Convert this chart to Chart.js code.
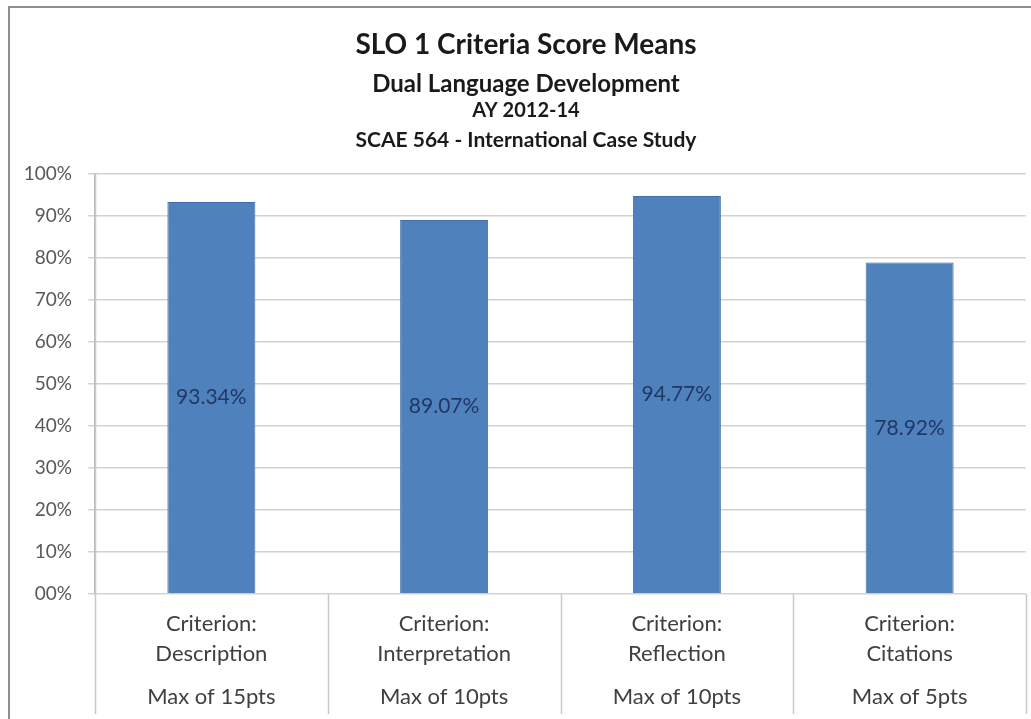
<!DOCTYPE html>
<html>
<head>
<meta charset="utf-8">
<script src="https://cdn.jsdelivr.net/npm/chart.js@4.4.1/dist/chart.umd.min.js"></script>
<style>
  html, body { margin: 0; padding: 0; background: #ffffff; overflow: hidden; }
  #frame { position: absolute; left: 8px; top: 6px; width: 1200px; height: 900px;
           border-left: 2px solid #8e8e8e; border-top: 2px solid #8e8e8e; }
  #wrap { position: absolute; left: 0; top: 0; width: 1031px; height: 719px; }
</style>
</head>
<body>
<div id="frame"></div>
<div id="wrap"><canvas id="c" width="1031" height="719"></canvas></div>
<script>
// ---- data ----
const titleLines = [
  'SLO 1 Criteria Score Means',
  'Dual Language Development',
  'AY 2012-14',
  'SCAE 564 - International Case Study'
];
const criterionLabels = [
  ['Criterion:', 'Description'],
  ['Criterion:', 'Interpretation'],
  ['Criterion:', 'Reflection'],
  ['Criterion:', 'Citations']
];
const maxLabels = ['Max of 15pts', 'Max of 10pts', 'Max of 10pts', 'Max of 5pts'];
const meanScores = [93.34, 89.07, 94.77, 78.92];
const yTickLabels = ['00%', '10%', '20%', '30%', '40%', '50%', '60%', '70%', '80%', '90%', '100%'];

// ---- plugins ----
const titleBlock = {
  id: 'titleBlock',
  afterDraw(chart, args, opts) {
    const ctx = chart.ctx;
    ctx.save();
    ctx.fillStyle = opts.color;
    ctx.textAlign = 'center';
    ctx.textBaseline = 'middle';
    titleLines.forEach((t, i) => {
      ctx.font = opts.fonts[i];
      ctx.fillText(t, opts.centerX, opts.ys[i]);
    });
    ctx.restore();
  }
};

const barValueLabels = {
  id: 'barValueLabels',
  afterDatasetsDraw(chart, args, opts) {
    const ctx = chart.ctx;
    ctx.save();
    ctx.font = opts.font;
    ctx.fillStyle = opts.color;
    ctx.textAlign = 'center';
    ctx.textBaseline = 'middle';
    const meta = chart.getDatasetMeta(0);
    meta.data.forEach((bar, i) => {
      const v = chart.data.datasets[0].data[i];
      ctx.fillText(v.toFixed(2) + '%', bar.x, (bar.y + bar.base) / 2);
    });
    ctx.restore();
  }
};

const categorySeparators = {
  id: 'categorySeparators',
  afterDraw(chart, args, opts) {
    const ctx = chart.ctx;
    const xs = chart.scales.x;
    const area = chart.chartArea;
    const n = xs.ticks.length;
    const half = (xs.getPixelForValue(1) - xs.getPixelForValue(0)) / 2;
    ctx.save();
    ctx.strokeStyle = opts.color;
    ctx.lineWidth = opts.width;
    for (let i = 0; i <= n; i++) {
      const px = Math.round(xs.getPixelForValue(0) - half + i * 2 * half) + 0.5;
      ctx.beginPath();
      ctx.moveTo(px, i === 0 ? area.top : area.bottom);
      ctx.lineTo(px, chart.height - opts.bottomGap);
      ctx.stroke();
    }
    ctx.restore();
  }
};

Chart.defaults.font.family = 'Lato, "Open Sans", sans-serif';

new Chart(document.getElementById('c'), {
  type: 'bar',
  data: {
    labels: criterionLabels,
    datasets: [{
      data: meanScores,
      backgroundColor: '#4f81bd',
      borderColor: '#3f6ea8',
      borderWidth: 1,
      categoryPercentage: 1.0,
      barPercentage: 0.378
    }]
  },
  options: {
    responsive: false,
    animation: false,
    devicePixelRatio: 1,
    layout: { padding: { top: 174, right: 5, left: 0, bottom: 0 } },
    plugins: {
      legend: { display: false },
      tooltip: { enabled: false },
      title: { display: false },
      titleBlock: {
        color: '#1a1a1a',
        centerX: 526,
        ys: [45, 84, 111, 140],
        fonts: ['bold 28px Lato', 'bold 24px Lato', 'bold 20px Lato', 'bold 21px Lato']
      },
      barValueLabels: { font: '21px Lato', color: '#1f3864' },
      categorySeparators: { color: '#c8c8c8', width: 1.5, bottomGap: 5 }
    },
    scales: {
      y: {
        min: 0, max: 100,
        afterFit(s) { s.width = 95; },
        ticks: {
          stepSize: 10,
          padding: 16,
          color: '#595959',
          font: { size: 19 },
          callback: (v, i) => yTickLabels[i]
        },
        grid: { color: '#d3d3d3', lineWidth: 1.5, tickLength: 7 },
        border: { color: '#bdbdbd', width: 1.5 }
      },
      x: {
        type: 'category',
        position: 'bottom',
        afterFit(s) { s.height = 75; },
        grid: { display: false, drawTicks: false },
        border: { display: false },
        ticks: {
          padding: 15,
          color: '#404040',
          font: { size: 22, lineHeight: 1.364 },
          maxRotation: 0, autoSkip: false
        }
      },
      x2: {
        type: 'category',
        position: 'bottom',
        labels: maxLabels,
        afterFit(s) { s.height = 50; },
        grid: { display: false, drawTicks: false },
        border: { display: false },
        ticks: {
          padding: 13,
          color: '#404040',
          font: { size: 22, lineHeight: 1.364 },
          maxRotation: 0, autoSkip: false
        }
      }
    }
  },
  plugins: [titleBlock, barValueLabels, categorySeparators]
});
</script>
</body>
</html>
